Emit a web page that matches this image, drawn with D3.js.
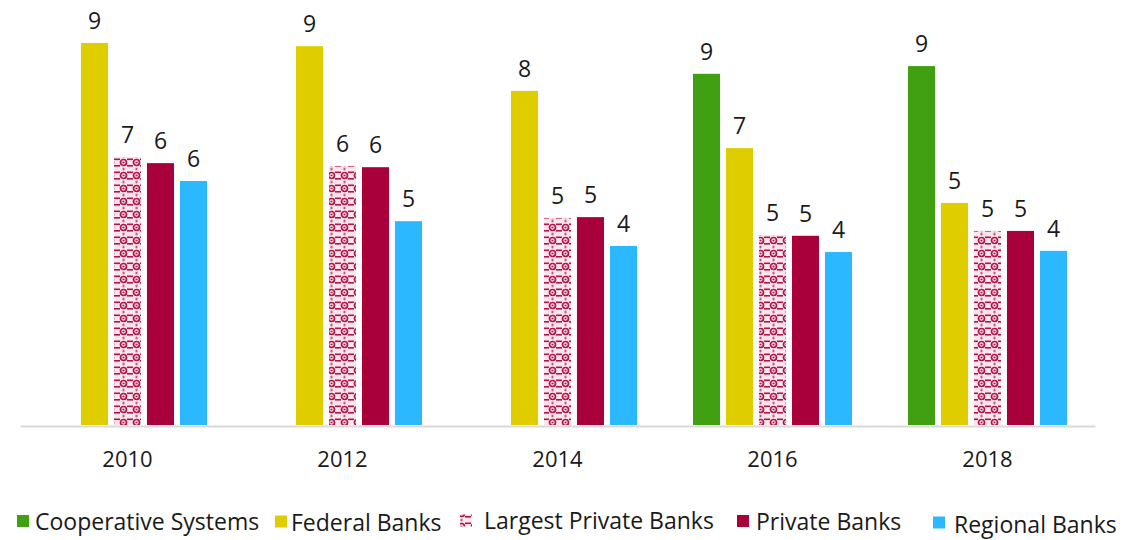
<!DOCTYPE html>
<html>
<head>
<meta charset="utf-8">
<script src="https://cdn.jsdelivr.net/npm/d3@7"></script>
<style>
  html, body { margin: 0; padding: 0; background: #fff; }
  svg { display: block; font-family: "Open Sans", sans-serif; }
</style>
</head>
<body>
<svg id="chart" width="1148" height="540"></svg>
<script>
// Survey years and bank groups
const years = ["2010", "2012", "2014", "2016", "2018"];
const seriesNames = ["Cooperative Systems", "Federal Banks", "Largest Private Banks", "Private Banks", "Regional Banks"];

// Scores per group, one value per year (null = not surveyed)
const cooperativeSystems = [null, null, null, 8.65, 8.84];
const federalBanks = [9.41, 9.33, 8.23, 6.82, 5.47];
const largestPrivateBanks = [6.60, 6.38, 5.10, 4.68, 4.78];
const privateBanks = [6.45, 6.35, 5.12, 4.66, 4.78];
const regionalBanks = [6.01, 5.02, 4.41, 4.26, 4.29];

const seriesValues = [cooperativeSystems, federalBanks, largestPrivateBanks, privateBanks, regionalBanks];

const colors = {
  "Cooperative Systems": "#40a012",
  "Federal Banks": "#dfcd00",
  "Largest Private Banks": "url(#lpb)",
  "Private Banks": "#a9003b",
  "Regional Banks": "#2bb8ff"
};

const svg = d3.select("#chart");
const baseline = 425;

// Ornamental fill for the "Largest Private Banks" bars
const defs = svg.append("defs");
const pat = defs.append("pattern")
  .attr("id", "lpb")
  .attr("patternUnits", "userSpaceOnUse")
  .attr("width", 13).attr("height", 13);
const ink = "#b0154a";
pat.append("rect").attr("width", 13).attr("height", 13).attr("fill", "#f8e6ec");
pat.append("circle").attr("cx", 6.5).attr("cy", 6.5).attr("r", 3)
  .attr("fill", "none").attr("stroke", ink).attr("stroke-width", 1.7);
pat.append("rect").attr("x", 5.5).attr("y", 5.7).attr("width", 2).attr("height", 1.6).attr("fill", ink);
[[0, 2.5], [0, 9], [10, 2.5], [10, 9]].forEach(([px, py]) => {
  pat.append("rect").attr("x", px).attr("y", py).attr("width", 3).attr("height", 1.6).attr("fill", ink);
});
pat.append("rect").attr("x", 5.5).attr("y", 0).attr("width", 2).attr("height", 1.3).attr("fill", "#c65a7e");
pat.append("rect").attr("x", 5.5).attr("y", 11.7).attr("width", 2).attr("height", 1.3).attr("fill", "#c65a7e");

// Scales
const x0 = d3.scaleBand().domain(years).range([20, 1095]).paddingInner(0).paddingOuter(0);
const x1 = d3.scaleBand().domain(seriesNames).range([28, 187]).paddingInner(0.18).paddingOuter(0);
const y = d3.scaleLinear().domain([0, 10]).range([baseline, baseline - 406]);

// Flatten into bar records
const bars = [];
years.forEach((yr, i) => {
  seriesNames.forEach((s, j) => {
    const v = seriesValues[j][i];
    if (v != null) bars.push({ year: yr, series: s, value: v });
  });
});

const fmt = d3.format(".0f");

const g = svg.append("g");

g.selectAll("rect.bar")
  .data(bars)
  .join("rect")
  .attr("class", "bar")
  .attr("x", d => x0(d.year) + x1(d.series))
  .attr("y", d => y(d.value))
  .attr("width", x1.bandwidth())
  .attr("height", d => y(0) - y(d.value))
  .attr("fill", d => colors[d.series]);

g.selectAll("text.val")
  .data(bars)
  .join("text")
  .attr("class", "val")
  .attr("x", d => x0(d.year) + x1(d.series) + x1.bandwidth() / 2)
  .attr("y", d => y(d.value) - 14)
  .attr("text-anchor", "middle")
  .attr("font-size", 23)
  .attr("fill", "#1a1a1a")
  .text(d => fmt(d.value));

// Category axis
const xAxis = d3.axisBottom(x0).tickSize(0).tickPadding(0);
const axisG = svg.append("g")
  .attr("transform", `translate(0,${baseline + 1})`)
  .call(xAxis);
axisG.select(".domain").attr("stroke", "#d9d9d9").attr("stroke-width", 2);
axisG.selectAll(".tick text")
  .attr("font-family", "Open Sans, sans-serif")
  .attr("font-size", 22)
  .attr("fill", "#1a1a1a")
  .attr("dy", 0)
  .attr("y", 41);

// Legend
const legendSquareX = [17, 275, 460, 737, 933];
const legendTextX = [35, 291, 484, 756, 954];
const legendDy = [0, 1, -1, 0, 3];
const legend = svg.append("g").attr("font-size", 23).attr("fill", "#1a1a1a");
seriesNames.forEach((s, i) => {
  legend.append("rect")
    .attr("x", legendSquareX[i]).attr("y", 515 + legendDy[i] * 0.5)
    .attr("width", 12).attr("height", 12)
    .attr("fill", colors[s]);
  legend.append("text")
    .attr("x", legendTextX[i]).attr("y", 530 + legendDy[i])
    .text(s);
});
</script>
</body>
</html>
